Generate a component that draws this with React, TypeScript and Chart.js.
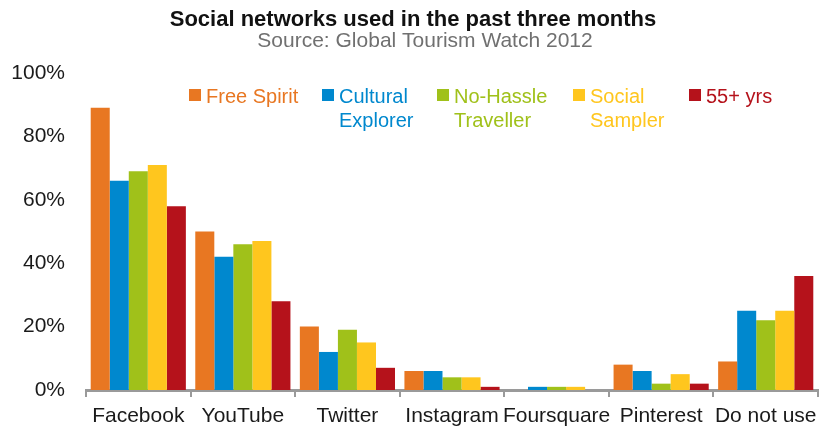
import React, { useEffect, useRef } from "react";
import { Chart, registerables } from "chart.js";

Chart.register(...registerables);

const categories = ["Facebook", "YouTube", "Twitter", "Instagram", "Foursquare", "Pinterest", "Do not use"];
const seriesNames: string[][] = [["Free Spirit"], ["Cultural", "Explorer"], ["No-Hassle", "Traveller"], ["Social", "Sampler"], ["55+ yrs"]];
const freeSpirit = [89, 50, 20, 6, 0, 8, 9];
const culturalExplorer = [66, 42, 12, 6, 1, 6, 25];
const noHassleTraveller = [69, 46, 19, 4, 1, 2, 22];
const socialSampler = [71, 47, 15, 4, 1, 5, 25];
const over55 = [58, 28, 7, 1, 0, 2, 36];
const seriesColors = ["#E87722", "#0088CE", "#A0C11A", "#FFC61E", "#B5121B"];
const yTicks = [0, 20, 40, 60, 80, 100];
const titleText = "Social networks used in the past three months";
const subtitleText = "Source: Global Tourism Watch 2012";

const legendTextX = [206, 339, 454, 590, 706];

const textPlugin = {
  id: "customText",
  afterDraw(chart: any) {
    const ctx = chart.ctx as CanvasRenderingContext2D;
    ctx.save();
    ctx.textAlign = "center";
    ctx.textBaseline = "alphabetic";
    ctx.fillStyle = "#111111";
    ctx.font = "bold 22px 'Liberation Sans', Arial, sans-serif";
    ctx.fillText(titleText, 413, 26);
    ctx.fillStyle = "#707070";
    ctx.font = "21px 'Liberation Sans', Arial, sans-serif";
    ctx.fillText(subtitleText, 425, 47);

    ctx.textAlign = "left";
    ctx.font = "20px 'Liberation Sans', Arial, sans-serif";
    seriesNames.forEach((lines, i) => {
      const x = legendTextX[i];
      ctx.fillStyle = seriesColors[i];
      ctx.fillRect(x - 17, 89, 12, 12);
      lines.forEach((line, j) => {
        ctx.fillText(line, x, 103 + j * 24);
      });
    });
    ctx.restore();
  },
};

export default function App() {
  const canvasRef = useRef<HTMLCanvasElement | null>(null);

  useEffect(() => {
    document.body.style.margin = "0";
    const canvas = canvasRef.current;
    if (!canvas) return;
    const data = [freeSpirit, culturalExplorer, noHassleTraveller, socialSampler, over55];
    const chart = new Chart(canvas, {
      type: "bar",
      data: {
        labels: categories,
        datasets: data.map((vals, i) => ({
          label: seriesNames[i].join(" "),
          data: vals,
          backgroundColor: seriesColors[i],
          borderWidth: 0,
          categoryPercentage: 0.91,
          barPercentage: 1,
        })),
      },
      options: {
        animation: false,
        responsive: true,
        maintainAspectRatio: false,
        layout: { padding: { top: 73, right: 8, bottom: 0, left: 0 } },
        plugins: {
          legend: { display: false },
          tooltip: { enabled: false },
          title: { display: false },
        },
        scales: {
          x: {
            offset: true,
            grid: {
              display: true,
              offset: true,
              drawOnChartArea: false,
              drawTicks: true,
              tickLength: 7,
              color: "#9a9a9a",
              lineWidth: 2,
            },
            border: { display: true, color: "#9a9a9a", width: 3 },
            ticks: {
              color: "#1a1a1a",
              padding: 7,
              font: { size: 21, family: "'Liberation Sans', Arial, sans-serif" },
              maxRotation: 0,
              autoSkip: false,
            },
            afterFit: (scale: any) => {
              scale.height = 38;
            },
          },
          y: {
            min: 0,
            max: 100,
            grid: { display: false },
            border: { display: false },
            afterBuildTicks: (scale: any) => {
              scale.ticks = yTicks.map((v) => ({ value: v }));
            },
            ticks: {
              color: "#1a1a1a",
              padding: 13,
              font: { size: 21, family: "'Liberation Sans', Arial, sans-serif" },
              callback: (v: any) => `${v}%`,
            },
            afterFit: (scale: any) => {
              scale.width = 86;
            },
          },
        },
      },
      plugins: [textPlugin],
    });
    return () => {
      chart.destroy();
    };
  }, []);

  return (
    <div style={{ width: 826, height: 428, position: "relative" }}>
      <canvas ref={canvasRef} />
    </div>
  );
}
